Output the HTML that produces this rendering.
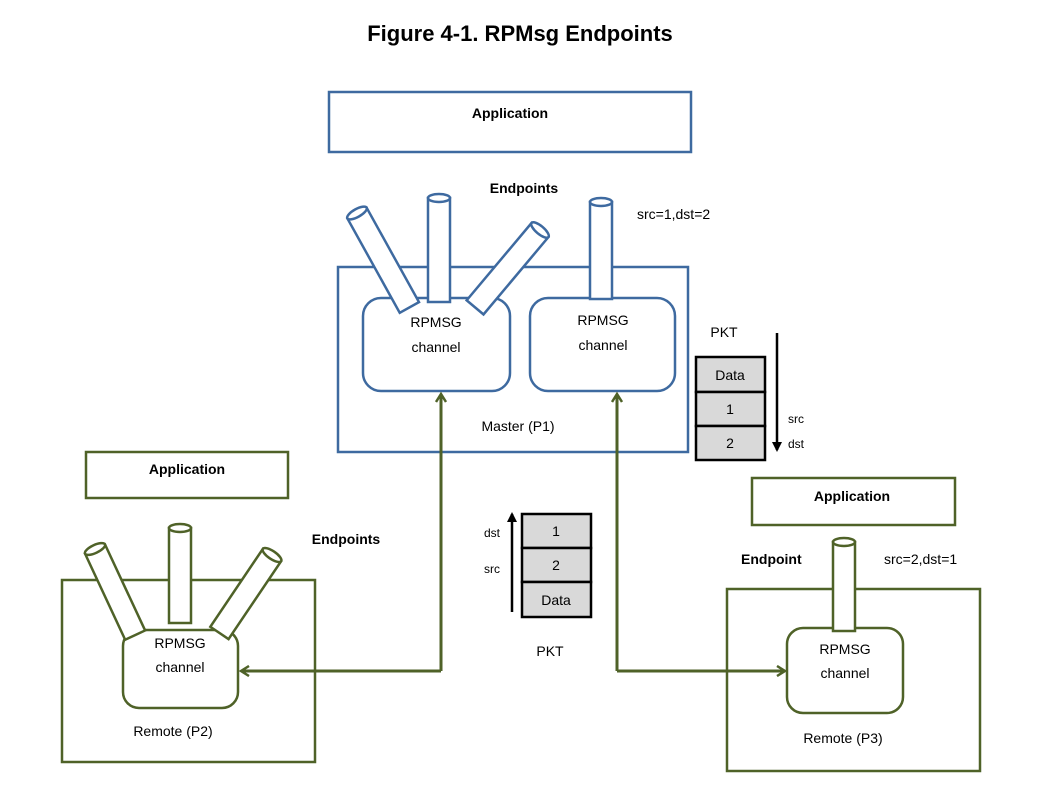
<!DOCTYPE html>
<html><head><meta charset="utf-8"><style>
html,body{margin:0;padding:0;background:#fff;width:1038px;height:794px;overflow:hidden}
svg{display:block}
text{font-family:"Liberation Sans",sans-serif;}
</style></head><body>
<svg width="1038" height="794" viewBox="0 0 1038 794" xmlns="http://www.w3.org/2000/svg">
<defs>
<marker id="ga" markerWidth="12" markerHeight="12" refX="9" refY="6" orient="auto" markerUnits="userSpaceOnUse">
<path d="M1,1 L9,6 L1,11" fill="none" stroke="#4f6228" stroke-width="2.5"/></marker>
<marker id="ka" markerWidth="12" markerHeight="12" refX="8" refY="6" orient="auto" markerUnits="userSpaceOnUse">
<path d="M0,1 L10,6 L0,11 Z" fill="#000"/></marker>
</defs>
<text x="520" y="41" font-size="22" font-weight="bold" text-anchor="middle">Figure 4-1. RPMsg Endpoints</text>

<!-- Master -->
<g stroke="#3e6aa0" stroke-width="2.5" fill="#fff">
<rect x="329" y="92" width="362" height="60"/>
<rect x="338" y="267" width="350" height="185"/>
<rect x="363" y="298" width="147" height="93" rx="18"/>
<rect x="530" y="298" width="145" height="93" rx="18"/>
<g transform="translate(357,213) rotate(-29)"><rect x="-11" y="0" width="22" height="108"/><ellipse cx="0" cy="0" rx="11" ry="4"/></g>
<g transform="translate(540,230) rotate(40)"><rect x="-11" y="0" width="22" height="101"/><ellipse cx="0" cy="0" rx="11" ry="4"/></g>
<g transform="translate(439,198)"><rect x="-11" y="0" width="22" height="104"/><ellipse cx="0" cy="0" rx="11" ry="4"/></g>
<g transform="translate(601,202)"><rect x="-11" y="0" width="22" height="97"/><ellipse cx="0" cy="0" rx="11" ry="4"/></g>
</g>
<text x="510" y="118" font-size="14" font-weight="bold" text-anchor="middle">Application</text>
<text x="524" y="193" font-size="14" font-weight="bold" text-anchor="middle">Endpoints</text>
<text x="637" y="219" font-size="14">src=1,dst=2</text>
<text x="436" y="327" font-size="14" text-anchor="middle">RPMSG</text>
<text x="436" y="352" font-size="14" text-anchor="middle">channel</text>
<text x="603" y="325" font-size="14" text-anchor="middle">RPMSG</text>
<text x="603" y="350" font-size="14" text-anchor="middle">channel</text>
<text x="518" y="431" font-size="14" text-anchor="middle">Master (P1)</text>

<!-- PKT top -->
<text x="724" y="337" font-size="14" text-anchor="middle">PKT</text>
<g stroke="#000" stroke-width="2.5" fill="#d9d9d9">
<rect x="696" y="357" width="69" height="35"/>
<rect x="696" y="392" width="69" height="34"/>
<rect x="696" y="426" width="69" height="34"/>
</g>
<text x="730" y="380" font-size="14" text-anchor="middle">Data</text>
<text x="730" y="414" font-size="14" text-anchor="middle">1</text>
<text x="730" y="448" font-size="14" text-anchor="middle">2</text>
<line x1="777" y1="333" x2="777" y2="450" stroke="#000" stroke-width="2.5" marker-end="url(#ka)"/>
<text x="788" y="423" font-size="12">src</text>
<text x="788" y="448" font-size="12">dst</text>

<!-- Left remote -->
<g stroke="#4f6228" stroke-width="2.5" fill="#fff">
<rect x="86" y="452" width="202" height="46"/>
<rect x="62" y="580" width="253" height="182"/>
<rect x="123" y="630" width="115" height="78" rx="16"/>
<g transform="translate(95,549) rotate(-25)"><rect x="-11" y="0" width="22" height="95"/><ellipse cx="0" cy="0" rx="11" ry="4"/></g>
<g transform="translate(180,528)"><rect x="-11" y="0" width="22" height="95"/><ellipse cx="0" cy="0" rx="11" ry="4"/></g>
<g transform="translate(272,555) rotate(34)"><rect x="-11" y="0" width="22" height="94"/><ellipse cx="0" cy="0" rx="11" ry="4"/></g>
</g>
<text x="187" y="474" font-size="14" font-weight="bold" text-anchor="middle">Application</text>
<text x="346" y="544" font-size="14" font-weight="bold" text-anchor="middle">Endpoints</text>
<text x="180" y="648" font-size="14" text-anchor="middle">RPMSG</text>
<text x="180" y="672" font-size="14" text-anchor="middle">channel</text>
<text x="173" y="736" font-size="14" text-anchor="middle">Remote (P2)</text>

<!-- PKT bottom -->
<g stroke="#000" stroke-width="2.5" fill="#d9d9d9">
<rect x="522" y="514" width="69" height="34"/>
<rect x="522" y="548" width="69" height="34"/>
<rect x="522" y="582" width="69" height="35"/>
</g>
<text x="556" y="536" font-size="14" text-anchor="middle">1</text>
<text x="556" y="570" font-size="14" text-anchor="middle">2</text>
<text x="556" y="605" font-size="14" text-anchor="middle">Data</text>
<line x1="512" y1="612" x2="512" y2="514" stroke="#000" stroke-width="2.5" marker-end="url(#ka)"/>
<text x="492" y="537" font-size="12" text-anchor="middle">dst</text>
<text x="492" y="573" font-size="12" text-anchor="middle">src</text>
<text x="550" y="656" font-size="14" text-anchor="middle">PKT</text>

<!-- Right remote -->
<g stroke="#4f6228" stroke-width="2.5" fill="#fff">
<rect x="752" y="478" width="203" height="47"/>
<rect x="727" y="589" width="253" height="182"/>
<rect x="787" y="628" width="116" height="85" rx="16"/>
<g transform="translate(844,542)"><rect x="-11" y="0" width="22" height="89"/><ellipse cx="0" cy="0" rx="11" ry="4"/></g>
</g>
<text x="852" y="501" font-size="14" font-weight="bold" text-anchor="middle">Application</text>
<text x="741" y="564" font-size="14" font-weight="bold">Endpoint</text>
<text x="884" y="564" font-size="14">src=2,dst=1</text>
<text x="845" y="654" font-size="14" text-anchor="middle">RPMSG</text>
<text x="845" y="678" font-size="14" text-anchor="middle">channel</text>
<text x="843" y="743" font-size="14" text-anchor="middle">Remote (P3)</text>

<!-- connectors -->
<g stroke="#4f6228" stroke-width="3" fill="none">
<line x1="441" y1="671" x2="441" y2="394" marker-end="url(#ga)"/>
<polyline points="441,671 241,671" marker-end="url(#ga)"/>
<line x1="617" y1="671" x2="617" y2="394" marker-end="url(#ga)"/>
<polyline points="617,671 785,671" marker-end="url(#ga)"/>
</g>
</svg>
</body></html>
